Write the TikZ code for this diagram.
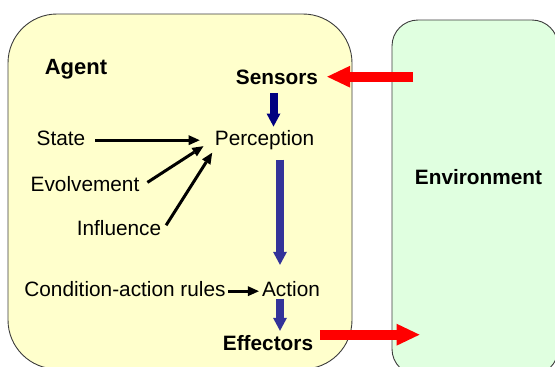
\documentclass[tikz,border=0pt]{standalone}
\usepackage{fontspec}
\setmainfont{Liberation Sans}
\usetikzlibrary{arrows.meta}

\definecolor{agentfill}{RGB}{255,255,204}
\definecolor{envfill}{RGB}{224,255,224}
\definecolor{boxline}{RGB}{60,60,60}
\definecolor{deepnavy}{RGB}{0,0,128}
\definecolor{slateblue}{RGB}{51,51,153}

\tikzset{
	txt/.style={inner sep=2pt, text height=15pt, text depth=4pt, anchor=base, font=\fontsize{20.8}{25}\selectfont},
	boldtxt/.style={txt, font=\fontsize{20.8}{25}\selectfont\bfseries},
	agentbox/.style={draw=boxline, fill=agentfill, line width=0.9pt, rounded corners=49pt},
	envbox/.style={draw=boxline, fill=envfill, line width=0.9pt, rounded corners=26pt},
	conn/.style={black, line width=3pt, -{Triangle[length=11pt, width=10pt, line width=0pt]}},
	bluearrow/.style={line width=8pt, -{Triangle[length=13pt, width=14pt, line width=0pt]}},
	redarrow/.style={red, line width=10pt, -{Triangle[length=23pt, width=22pt, line width=0pt]}}
}

\begin{document}
\begin{tikzpicture}[x=1pt, y=-1pt]
	\useasboundingbox (0,0) rectangle (555,367);
	% the two rounded boxes
	\begin{scope}
		\clip (0,0) rectangle (555,367);
		\draw[agentbox] (8,14) rectangle (352,369);
		\draw[envbox] (392,20) rectangle (558,375);
	\end{scope}

	\node[boldtxt, font=\fontsize{22}{26}\selectfont\bfseries] (agent) at (76,74) {Agent};
	\node[boldtxt] (sensors) at (277,84.3) {Sensors};
	\node[txt] (percep) at (264.6,145.7) {Perception};
	\node[txt] (state) at (61,145.7) {State};
	\node[txt] (evol) at (85,191.7) {Evolvement};
	\node[txt] (infl) at (119,235) {Influence};
	\node[txt] (rules) at (125,296.7) {Condition-action rules};
	\node[txt] (action) at (291,296.7) {Action};
	\node[boldtxt] (effect) at (268,350) {Effectors};
	\node[boldtxt] (env) at (478.5,184.3) {Environment};

	\coordinate (envin) at (413,76.7);
	\coordinate (envout) at (419.5,334.7);

	% inputs of the perception
	\draw[conn, shorten <=8pt, shorten >=13pt] (state) -- (percep);
	\draw[conn, shorten <=7pt, shorten >=11pt] (evol.east) -- (percep.west);
	\draw[conn, shorten <=5pt, shorten >=1pt] (infl.east) -- (percep.south west);
	\draw[conn, shorten >=1pt] (rules) -- (action);

	% flow through the agent
	\draw[bluearrow, deepnavy, shorten <=2.4pt, shorten >=2pt] ([xshift=-3.5pt]sensors.south) -- ([xshift=-3.5pt]sensors.south |- percep.north);
	\draw[bluearrow, slateblue, line width=7.4pt, shorten <=7.6pt, shorten >=14.7pt] ([xshift=15.4pt]percep.south) -- ([xshift=15.4pt]percep.south |- action.north);
	\draw[bluearrow, slateblue, shorten <=-4.4pt, shorten >=2pt] ([xshift=-11pt]action.south) -- ([xshift=-11pt]action.south |- effect.north);

	% exchange with the environment
	\draw[redarrow, shorten >=7pt] (envin) -- (envin -| sensors.east);
	\draw[redarrow, shorten <=4.6pt] (effect.east |- envout) -- (envout);
\end{tikzpicture}
\end{document}
